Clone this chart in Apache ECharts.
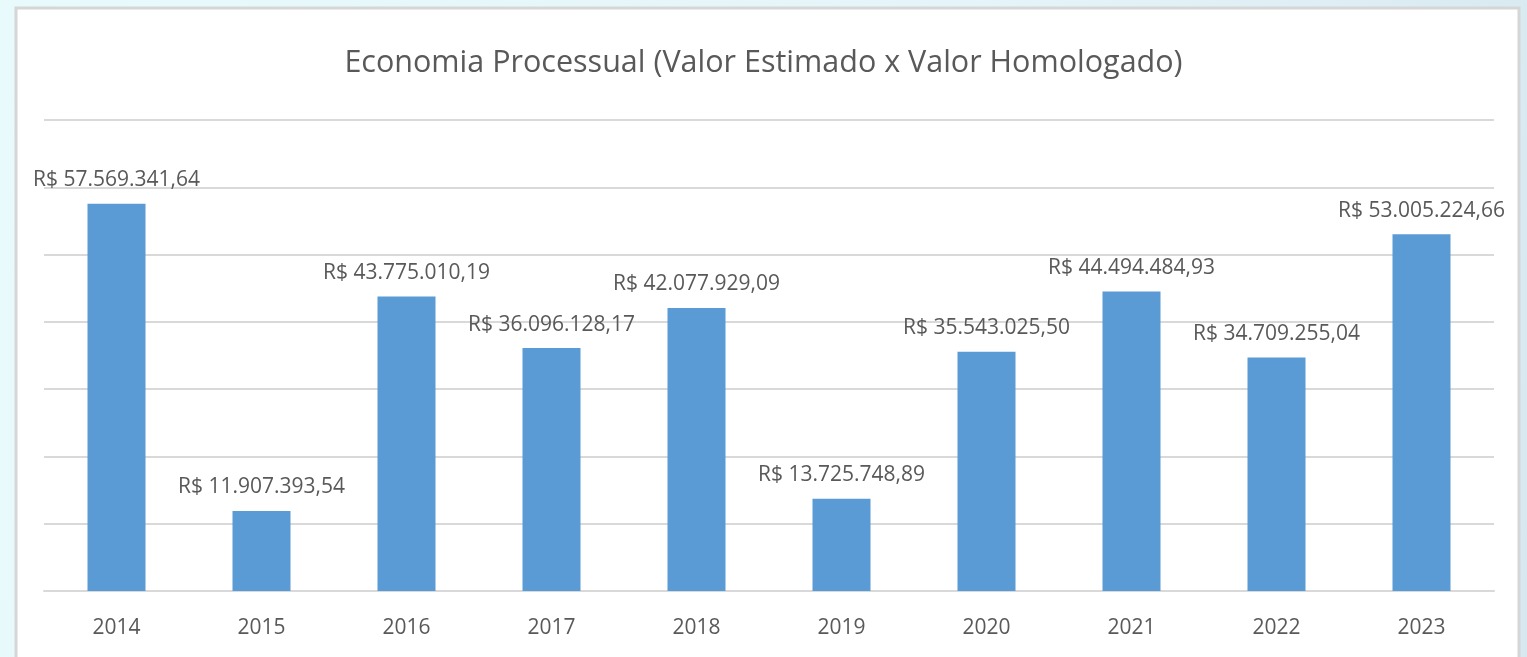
<!DOCTYPE html>
<html>
<head>
<meta charset="utf-8">
<script src="https://cdn.jsdelivr.net/npm/echarts@6/dist/echarts.min.js"></script>
<style>
  html, body { margin: 0; padding: 0; }
  body {
    width: 1527px; height: 657px; overflow: hidden;
    background: linear-gradient(100deg, #e9fafc 0%, #e4f4f8 60%, #d8e8f0 100%);
  }
  #chart { width: 1527px; height: 657px; }
</style>
</head>
<body>
<div id="chart"></div>
<script>
// Economia processual por ano (R$)
const years = ['2014', '2015', '2016', '2017', '2018', '2019', '2020', '2021', '2022', '2023'];
const savings = [57569341.64, 11907393.54, 43775010.19, 36096128.17, 42077929.09,
                 13725748.89, 35543025.50, 44494484.93, 34709255.04, 53005224.66];
const titleText = 'Economia Processual (Valor Estimado x Valor Homologado)';

function brl(v) {
  const parts = v.toFixed(2).split('.');
  const intPart = parts[0].replace(/\B(?=(\d{3})+(?!\d))/g, '.');
  return 'R$ ' + intPart + ',' + parts[1];
}

const FONT = '"Open Sans", sans-serif';
const chart = echarts.init(document.getElementById('chart'));
chart.setOption({
  animation: false,
  textStyle: { fontFamily: FONT },
  graphic: [{
    type: 'rect', z: -10, silent: true,
    shape: { x: 16, y: 8, width: 1503, height: 660 },
    style: { fill: '#ffffff', stroke: '#d6d6d6', lineWidth: 3 }
  }],
  title: {
    text: titleText,
    left: 'center', top: 43,
    textStyle: { fontFamily: FONT, fontSize: 30.5, fontWeight: 'normal', color: '#595959' }
  },
  grid: { left: 44, right: 33, top: 120, bottom: 66, containLabel: false },
  xAxis: {
    type: 'category',
    data: years,
    axisLine: { lineStyle: { color: '#d9d9d9', width: 2 } },
    axisTick: { show: false },
    axisLabel: { color: '#595959', fontSize: 21, margin: 27, fontFamily: FONT }
  },
  yAxis: {
    type: 'value',
    min: 0, max: 70000000, interval: 10000000,
    axisLabel: { show: false },
    axisLine: { show: false },
    axisTick: { show: false },
    splitLine: { lineStyle: { color: '#d9d9d9', width: 2 } }
  },
  series: [{
    type: 'bar',
    data: savings,
    barWidth: '40%',
    itemStyle: { color: '#5b9bd5' },
    label: {
      show: true, position: 'top', distance: 13,
      color: '#595959', fontSize: 21, fontFamily: FONT,
      formatter: p => brl(p.value)
    }
  }]
});
</script>
</body>
</html>
